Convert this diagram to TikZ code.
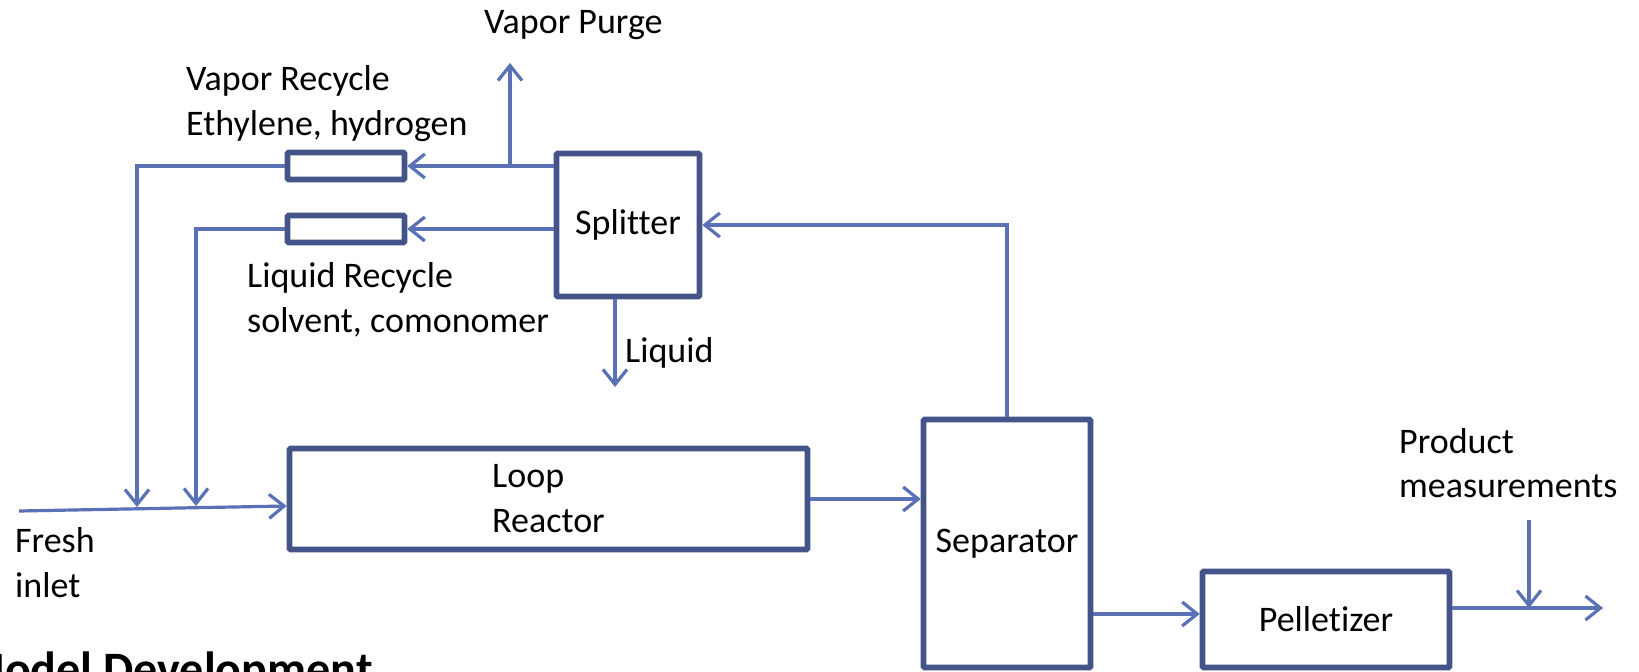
\documentclass[tikz,border=0pt]{standalone}
\usepackage{fontspec}
\setmainfont{Carlito}[Ligatures=NoCommon]
\usetikzlibrary{arrows.meta,calc}
\definecolor{conncol}{RGB}{90,113,182}
\definecolor{boxcol}{RGB}{68,84,136}
\tikzset{
  conn/.style={draw=conncol, line width=3.2pt, -{Straight Barb[length=15pt,width=24pt,line width=3.2pt]}},
  unitbox/.style={draw=boxcol, line width=5.6pt, rectangle, inner sep=0pt, rounded corners=1pt, font=\fontsize{36}{45}\selectfont},
  lbl/.style={inner sep=0pt, font=\fontsize{36}{45}\selectfont, anchor=base west},
  title/.style={inner sep=0pt, font=\fontsize{48}{56}\selectfont\bfseries, anchor=base west}
}
\begin{document}
\begin{tikzpicture}[x=1pt,y=-1pt]
\useasboundingbox (0,0) rectangle (1639,672);
\clip (0,0) rectangle (1639,672);
\fill[white] (0,0) rectangle (1639,672);

% units
\node[unitbox, minimum width=143pt, minimum height=143pt] (split) at (628,225) {Splitter};
\node[unitbox, minimum width=117pt, minimum height=27pt] (box1) at (346,166) {};
\node[unitbox, minimum width=117pt, minimum height=27pt] (box2) at (346,229) {};
\node[unitbox, minimum width=518pt, minimum height=101pt, align=left] (reactor) at (548.5,499) {Loop\\Reactor};
\node[unitbox, minimum width=167pt, minimum height=248pt] (sep) at (1007,543.5) {Separator};
\node[unitbox, minimum width=247pt, minimum height=96pt] (pel) at (1326,619.5) {Pelletizer};

% labels
\node[lbl] (tpurge) at (484,33) {Vapor Purge};
\node[lbl] (tvr1) at (186,90) {Vapor Recycle};
\node[lbl] (tvr2) at (186,135) {Ethylene, hydrogen};
\node[lbl] (tlr1) at (247,287) {Liquid Recycle};
\node[lbl] (tlr2) at (247,332) {solvent, comonomer};
\node[lbl] (tliq) at (625,362) {Liquid};
\node[lbl] (tfr1) at (15,552) {Fresh};
\node[lbl] (tfr2) at (15,597) {inlet};
\node[lbl] (tpm1) at (1399,453) {Product};
\node[lbl] (tpm2) at (1399,497) {measurements};
\node[title] (tmodel) at (-37,685) {Model Development};

% free ends
\coordinate (purgetop) at (510,63);
\coordinate (j1) at (137,507);
\coordinate (j2) at (196,506);
\coordinate (fresh) at (19,511);
\coordinate (liqtip) at (615,387);
\coordinate (out) at (1603,608);
\coordinate (prodtop) at (1529,520);

% connectors
\draw[conn] (split.west |- box1.east) -- (box1.east);
\draw[conn] (purgetop |- box1.east) -- (purgetop);
\draw[conn] (split.west |- box2.east) -- (box2.east);
\draw[conn] (box1.west) -| (j1);
\draw[conn] (box2.west) -| (j2);
\draw[conn] (fresh) -- ([yshift=-7pt]reactor.west);
\draw[conn] (split.south -| liqtip) -- (liqtip);
\draw[conn] (reactor.east) -- (sep.west |- reactor.east);
\draw[conn] (sep.north) |- (split.east);
\draw[conn] (sep.east |- 0,614) -- ([yshift=5.5pt]pel.west);
\draw[conn] (pel.east |- out) -- (out);
\draw[conn] (prodtop) -- (prodtop |- out);
\end{tikzpicture}
\end{document}
